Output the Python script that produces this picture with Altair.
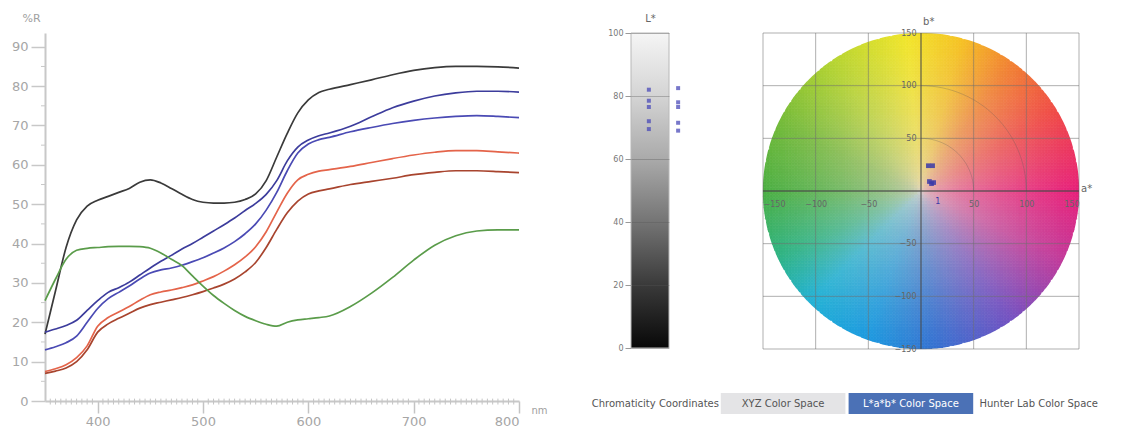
import math
import altair as alt
import numpy as np
import pandas as pd

# ---------------- spectral reflectance curves ----------------
wavelength = [350, 360, 370, 380, 390, 400, 410, 420, 430, 440, 450, 460, 470, 480, 490,
              500, 510, 520, 530, 540, 550, 560, 570, 580, 590, 600, 610, 620, 640, 660,
              680, 700, 720, 740, 760, 780, 800]

refl_black = [17, 28, 39, 46, 49.5, 51, 52, 53, 54, 55.6, 56.2, 55.4, 54, 52.5, 51.2,
              50.5, 50.3, 50.3, 50.5, 51.2, 52.6, 56, 62, 68, 73.2, 76.5, 78.4, 79.2,
              80.4, 81.6, 82.9, 84, 84.7, 85, 85, 84.9, 84.6]
refl_blue_a = [17.5, 18.3, 19.2, 20.5, 23, 25.5, 27.6, 28.8, 30.2, 32, 33.8, 35.5, 37, 38.6,
               40, 41.6, 43.2, 44.8, 46.5, 48.4, 50.2, 52.5, 56, 61, 64.5, 66.3, 67.4, 68.1,
               69.8, 72.2, 74.5, 76.2, 77.5, 78.3, 78.7, 78.7, 78.5]
refl_blue_b = [13, 13.8, 14.8, 16.5, 20, 23.5, 26, 27.6, 29.2, 31, 32.5, 33.3, 33.8, 34.5,
               35.4, 36.4, 37.6, 38.9, 40.5, 42.5, 45, 48.5, 53, 58.5, 63, 65.3, 66.4, 67,
               68.4, 69.5, 70.5, 71.3, 71.9, 72.3, 72.5, 72.3, 72]
refl_red_a = [7.5, 8.2, 9.2, 11, 14, 19, 21.2, 22.6, 24, 25.6, 27, 27.7, 28.2, 28.8, 29.5,
              30.5, 31.6, 33, 34.6, 36.6, 39.2, 43, 48, 52.8, 56.2, 57.6, 58.4, 58.8,
              59.6, 60.6, 61.6, 62.5, 63.2, 63.6, 63.6, 63.3, 63]
refl_red_b = [7, 7.6, 8.4, 10, 13, 17.5, 19.6, 21, 22.3, 23.6, 24.5, 25.1, 25.7, 26.3, 27,
              27.8, 28.7, 29.7, 31, 32.8, 35.2, 39, 43.6, 47.8, 50.8, 52.6, 53.4, 53.9,
              55, 55.8, 56.6, 57.5, 58.1, 58.5, 58.5, 58.3, 58]
refl_green = [25.5, 31, 36, 38.3, 38.8, 39, 39.2, 39.3, 39.3, 39.2, 38.8, 37.6, 36, 34.4,
              31.8, 29.2, 26.8, 24.8, 23, 21.5, 20.4, 19.5, 19, 20, 20.6, 20.9, 21.2, 21.6,
              24, 27.4, 31.4, 35.8, 39.6, 42, 43.2, 43.5, 43.5]

sample_names = ["Sample 1", "Sample 2", "Sample 3", "Sample 4", "Sample 5", "Sample 6"]
sample_values = [refl_black, refl_blue_a, refl_blue_b, refl_red_a, refl_red_b, refl_green]
sample_colors = ["#3a3a3a", "#3c3c9c", "#4a4ab4", "#e4644a", "#a8442e", "#5a9c4a"]

x_major = [400, 500, 600, 700, 800]
y_major = [0, 10, 20, 30, 40, 50, 60, 70, 80, 90]

# ---------------- L* bar ----------------
l_ticks = [0, 20, 40, 60, 80, 100]
l_marks_left = [82, 78.5, 76.5, 72, 69.5]
l_marks_right = [82.5, 78, 76.5, 71.5, 69]

# ---------------- a*b* plane ----------------
ab_grid = [-150, -100, -50, 50, 100, 150]
sample_a = [7, 11, 8, 10, 12]
sample_b = [24, 24, 9, 7, 8]

# ---------------- tab strip ----------------
tabs = ["Chromaticity Coordinates", "XYZ Color Space", "L*a*b* Color Space", "Hunter Lab Color Space"]

# =================================================================
# Spectral panel
long_rows = []
for name, vals in zip(sample_names, sample_values):
    for w, v in zip(wavelength, vals):
        long_rows.append({"nm": w, "R": v, "sample": name})
spec_df = pd.DataFrame(long_rows)

sx = alt.Scale(domain=[350, 800], nice=False, zero=False)
sy = alt.Scale(domain=[0, 93.5], nice=False, zero=False)
ax_x = alt.Axis(values=x_major, tickSize=12, tickColor="#c4c4c4", tickWidth=1.5,
                domainColor="#c8c8c8", domainWidth=2, labelColor="#a6a6a6", labelFontSize=13,
                labelPadding=2, grid=False, title="nm", titleX=486, titleY=9,
                titleAlign="left", titleBaseline="middle", titleFontSize=10,
                titleFontWeight="normal", titleColor="#a0a0a0")
ax_y = alt.Axis(values=y_major, tickSize=14, tickColor="#c8c8c8", tickWidth=1.5,
                domainColor="#c8c8c8", domainWidth=2, labelColor="#a6a6a6", labelFontSize=13,
                labelPadding=3, grid=False, title="%R", titleAngle=0, titleX=-14, titleY=-15,
                titleAlign="center", titleBaseline="middle", titleFontSize=11,
                titleFontWeight="normal", titleColor="#a0a0a0")

lines = alt.Chart(spec_df).mark_line(strokeWidth=1.7, interpolate="monotone").encode(
    x=alt.X("nm:Q", scale=sx, axis=ax_x),
    y=alt.Y("R:Q", scale=sy, axis=ax_y),
    color=alt.Color("sample:N", scale=alt.Scale(domain=sample_names, range=sample_colors), legend=None),
)

minor_x = pd.DataFrame({"nm": [w for w in range(355, 800, 5) if w % 100 != 0]})
minor_x["R"] = 0.6
minor_x["R2"] = -0.9
xticks_minor = alt.Chart(minor_x).mark_rule(color="#c4c4c4", strokeWidth=1).encode(
    x=alt.X("nm:Q", scale=sx, axis=ax_x), y=alt.Y("R:Q", scale=sy, axis=ax_y), y2="R2:Q")

minor_y = pd.DataFrame({"R": [v + 5 for v in y_major[:-1]]})
minor_y["nm"] = 350
minor_y["nm2"] = 346.2
yticks_minor = alt.Chart(minor_y).mark_rule(color="#c8c8c8", strokeWidth=1).encode(
    x=alt.X("nm:Q", scale=sx, axis=ax_x), x2="nm2:Q", y=alt.Y("R:Q", scale=sy, axis=ax_y))

spectral = alt.layer(lines, xticks_minor, yticks_minor).properties(width=474, height=368)

# =================================================================
# L* bar
lx = alt.Scale(domain=[0, 1], nice=False, zero=False)
ly = alt.Scale(domain=[0, 100], nice=False, zero=False)
ax_l = alt.Axis(values=l_ticks, tickSize=6, tickColor="#999", domain=False, grid=True,
                gridColor="#555", gridOpacity=0.35, labelFontSize=8, labelColor="#777",
                labelPadding=2, title="L*", titleAngle=0, titleX=19, titleY=-15,
                titleAlign="center", titleBaseline="middle", titleFontSize=10,
                titleFontWeight="normal", titleColor="#666", zindex=1)
ax_lx = alt.Axis(labels=False, ticks=False, domain=False, grid=False, title=None)

gray_ramp = alt.Gradient(
    gradient="linear", x1=0, x2=0, y1=0, y2=1,
    stops=[alt.GradientStop(color="#f5f5f5", offset=0),
           alt.GradientStop(color="#d4d4d4", offset=0.2),
           alt.GradientStop(color="#aaaaaa", offset=0.4),
           alt.GradientStop(color="#747474", offset=0.6),
           alt.GradientStop(color="#3a3a3a", offset=0.8),
           alt.GradientStop(color="#080808", offset=1)])
lbar_df = pd.DataFrame({"x": [0], "x2": [1], "L": [0], "L2": [100]})
lbar_rect = alt.Chart(lbar_df).mark_rect(color=gray_ramp, stroke="#b8b8b8", strokeWidth=1).encode(
    x=alt.X("x:Q", scale=lx, axis=ax_lx), x2="x2:Q",
    y=alt.Y("L:Q", scale=ly, axis=ax_l), y2="L2:Q")

lm_df = pd.DataFrame({"x": [0.47] * len(l_marks_left) + [1.24] * len(l_marks_right),
                      "L": l_marks_left + l_marks_right})
lbar_marks = alt.Chart(lm_df).mark_point(shape="square", filled=True, size=16,
                                         color="#4a4ab8", opacity=0.75).encode(
    x=alt.X("x:Q", scale=lx, axis=ax_lx), y=alt.Y("L:Q", scale=ly, axis=ax_l))

lbar = alt.layer(lbar_rect, lbar_marks).properties(width=38, height=315)

# =================================================================
# a*b* colour plane
hue_stops = [(0, "#e8207a"), (30, "#f04a48"), (55, "#f28232"), (75, "#f6c224"),
             (95, "#f2e62a"), (125, "#b4d432"), (155, "#72ba3a"), (180, "#4cb044"),
             (205, "#2eb486"), (225, "#22b2d6"), (250, "#1c9ae0"), (275, "#3472d2"),
             (305, "#7452c2"), (335, "#c43a9a"), (360, "#e8207a")]
centre_rgb = np.array([226, 212, 200], dtype=float)


def hex_rgb(h):
    return np.array([int(h[i:i + 2], 16) for i in (1, 3, 5)], dtype=float)


stop_ang = np.array([s[0] for s in hue_stops], dtype=float)
stop_rgb = np.array([hex_rgb(s[1]) for s in hue_stops])

step = 3.0
centres = np.arange(-150 + step / 2, 150, step)
cell_rows = []
for bc in centres:
    for ac in centres:
        r = math.hypot(ac, bc)
        if r > 151:
            continue
        ang = math.degrees(math.atan2(bc, ac)) % 360
        hue = np.array([np.interp(ang, stop_ang, stop_rgb[:, k]) for k in range(3)])
        t = min(1.0, r / 150.0) ** 0.5
        rgb = centre_rgb * (1 - t) + hue * t
        col = "#%02x%02x%02x" % tuple(int(round(c)) for c in rgb)
        cell_rows.append({"a": ac - step / 2, "b": bc - step / 2, "col": col})
cells_df = pd.DataFrame(cell_rows)

wx = alt.Scale(domain=[-150, 150], nice=False, zero=False)
wy = alt.Scale(domain=[-150, 150], nice=False, zero=False)
ax_a = alt.Axis(values=ab_grid, offset=-158, domain=False, ticks=False, grid=False,
                labelFontSize=8, labelColor="#666", labelPadding=9, title=None, zindex=1)
ax_b = alt.Axis(values=ab_grid, offset=-158, domain=False, ticks=False, grid=False,
                labelFontSize=8, labelColor="#666", labelPadding=5, title=None, zindex=1)

cells = alt.Chart(cells_df).transform_calculate(
    a2=f"datum.a + {step}", b2=f"datum.b + {step}"
).mark_rect(strokeWidth=0.7).encode(
    x=alt.X("a:Q", scale=wx, axis=ax_a), x2="a2:Q",
    y=alt.Y("b:Q", scale=wy, axis=ax_b), y2="b2:Q",
    fill=alt.Fill("col:N", scale=None), stroke=alt.Stroke("col:N", scale=None))

# white rim that trims the stepped edge of the disc into a clean circle
rim_rows = [{"deg": d, "a": 154 * math.cos(math.radians(d)), "b": 154 * math.sin(math.radians(d))}
            for d in range(0, 361, 2)]
rim = alt.Chart(pd.DataFrame(rim_rows)).mark_line(color="white", strokeWidth=8).encode(
    x=alt.X("a:Q", scale=wx, axis=ax_a), y=alt.Y("b:Q", scale=wy, axis=ax_b), order="deg:Q")

vgrid = pd.DataFrame({"a": ab_grid, "b": [-150] * len(ab_grid), "b2": [150] * len(ab_grid)})
hgrid = pd.DataFrame({"b": ab_grid, "a": [-150] * len(ab_grid), "a2": [150] * len(ab_grid)})
grid_v = alt.Chart(vgrid).mark_rule(color="#707070", opacity=0.55, strokeWidth=1).encode(
    x=alt.X("a:Q", scale=wx, axis=ax_a), y=alt.Y("b:Q", scale=wy, axis=ax_b), y2="b2:Q")
grid_h = alt.Chart(hgrid).mark_rule(color="#707070", opacity=0.55, strokeWidth=1).encode(
    y=alt.Y("b:Q", scale=wy, axis=ax_b), x=alt.X("a:Q", scale=wx, axis=ax_a), x2="a2:Q")

zero_v = alt.Chart(pd.DataFrame({"a": [0], "b": [-150], "b2": [150]})).mark_rule(
    color="#4a4a4a", opacity=0.8, strokeWidth=1.3).encode(
    x=alt.X("a:Q", scale=wx, axis=ax_a), y=alt.Y("b:Q", scale=wy, axis=ax_b), y2="b2:Q")
zero_h = alt.Chart(pd.DataFrame({"b": [0], "a": [-150], "a2": [150]})).mark_rule(
    color="#4a4a4a", opacity=0.8, strokeWidth=1.3).encode(
    y=alt.Y("b:Q", scale=wy, axis=ax_b), x=alt.X("a:Q", scale=wx, axis=ax_a), x2="a2:Q")

arc_rows = []
for chroma in (50, 100):
    for deg in range(0, 91, 3):
        arc_rows.append({"C": chroma, "deg": deg,
                         "a": chroma * math.cos(math.radians(deg)),
                         "b": chroma * math.sin(math.radians(deg))})
arcs = alt.Chart(pd.DataFrame(arc_rows)).mark_line(color="#555", opacity=0.3, strokeWidth=0.9).encode(
    x=alt.X("a:Q", scale=wx, axis=ax_a), y=alt.Y("b:Q", scale=wy, axis=ax_b),
    detail="C:N", order="deg:Q")

pts = alt.Chart(pd.DataFrame({"a": sample_a, "b": sample_b})).mark_point(
    shape="square", filled=True, size=22, color="#3a3aa8", opacity=0.85).encode(
    x=alt.X("a:Q", scale=wx, axis=ax_a), y=alt.Y("b:Q", scale=wy, axis=ax_b))

ab_labels = pd.DataFrame({"a": [2, 152], "b": [160, 2], "t": ["b*", "a*"]})
ab_text = alt.Chart(ab_labels).mark_text(fontSize=10, color="#666", align="left").encode(
    x=alt.X("a:Q", scale=wx, axis=ax_a), y=alt.Y("b:Q", scale=wy, axis=ax_b), text="t:N")
pt_label = alt.Chart(pd.DataFrame({"a": [16], "b": [-10], "t": ["1"]})).mark_text(
    fontSize=8, color="#3a3aa8").encode(
    x=alt.X("a:Q", scale=wx, axis=ax_a), y=alt.Y("b:Q", scale=wy, axis=ax_b), text="t:N")

wheel = alt.layer(cells, rim, grid_v, grid_h, arcs, zero_v, zero_h, pts, pt_label, ab_text).properties(
    width=316, height=316)

# =================================================================
# tab strip
tab_df = pd.DataFrame({"tab": tabs})
tab_x = alt.Scale(domain=tabs, range=[-38, 470], paddingInner=0.025, paddingOuter=0)
tab_boxes = alt.Chart(tab_df).mark_rect().encode(
    x=alt.X("tab:N", scale=tab_x, axis=None, sort=tabs),
    fill=alt.Fill("tab:N", scale=alt.Scale(domain=tabs,
                  range=["transparent", "#e4e4e6", "#4b71b6", "transparent"]), legend=None))
tab_text = alt.Chart(tab_df).mark_text(fontSize=10).encode(
    x=alt.X("tab:N", scale=tab_x, axis=None, sort=tabs),
    text="tab:N",
    color=alt.Color("tab:N", scale=alt.Scale(domain=tabs,
                    range=["#555555", "#555555", "#ffffff", "#555555"]), legend=None))
strip = alt.layer(tab_boxes, tab_text).properties(width=470, height=21)

# =================================================================
# flush layout: the nested L*/a*b* row counts as zero height, so the gap
# below it carries the 315 px panel height plus the 45 px space
right_col = alt.vconcat(alt.hconcat(lbar, wheel, spacing=94, bounds="flush"),
                        strip, spacing=360, bounds="flush")
chart = alt.hconcat(spectral, right_col, spacing=112, bounds="flush").resolve_scale(
    color="independent", fill="independent"
).properties(
    padding={"left": 11, "top": 12, "right": 0, "bottom": 0},
    background="white",
).configure(font="DejaVu Sans").configure_view(stroke="transparent", strokeWidth=0)

chart.save("out.html", embed_options={"renderer": "svg", "actions": False})
